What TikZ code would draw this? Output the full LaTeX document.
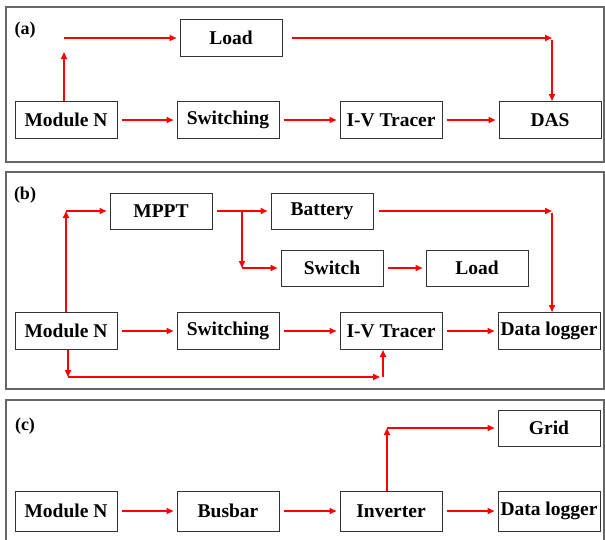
\documentclass[tikz,border=0pt]{standalone}
\usepackage{fontspec}
\setmainfont{Liberation Serif}
\usetikzlibrary{arrows.meta}

\tikzset{
  blk/.style={draw=black!80, line width=1pt, fill=white,
    minimum width=102pt, minimum height=37pt, inner sep=0pt,
    font=\fontsize{19.5}{23}\selectfont\bfseries},
  flow/.style={draw=red, line width=1.6pt, -{Triangle[length=7pt,width=6pt]}},
  gap/.style={shorten <=4pt, shorten >=3pt},
  panel/.style={draw=black!60, line width=1.3pt},
  tag/.style={font=\fontsize{18}{21}\selectfont\bfseries}
}

\begin{document}
\begin{tikzpicture}[x=1pt,y=-1pt]
\useasboundingbox (0,0) rectangle (605,539);

% (a) test bench
\draw[panel] (6,7) rectangle (604,162);
\node[tag] (taga) at (25,30) {(a)};
\node[blk] (loadA) at (231,38) {Load};
\node[blk] (modA) at (66,120) {Module N};
\node[blk] (swA) at (228,120) {Switching};
\node[blk] (ivA) at (391,120) {I-V Tracer};
\node[blk] (dasA) at (550,120) {DAS};
\coordinate (upA) at (64,52);
\coordinate (cornA) at (64,38);
\coordinate (cornA2) at (552,38);
\draw[flow] (modA.north -| upA) -- (upA);
\draw[flow, shorten >=3pt] (cornA) -- (loadA.west);
\draw[flow, shorten <=9pt] (loadA.east) -- (cornA2);
\draw[flow] ([yshift=-2pt]cornA2) -- (dasA.north -| cornA2);
\draw[flow, gap] (modA) -- (swA);
\draw[flow, gap] (swA) -- (ivA);
\draw[flow, gap] (ivA) -- (dasA);

% (b) off-grid setup
\draw[panel] (6,172) rectangle (604,389);
\node[tag] (tagb) at (25,195) {(b)};
\node[blk, minimum height=36pt] (mpptB) at (161,211) {MPPT};
\node[blk, minimum height=36pt] (batB) at (322,211) {Battery};
\node[blk, minimum height=36pt] (swtB) at (332,268) {Switch};
\node[blk, minimum height=36pt] (loadB) at (477,268) {Load};
\node[blk] (modB) at (66,331) {Module N};
\node[blk] (swB) at (228,331) {Switching};
\node[blk] (ivB) at (391,331) {I-V Tracer};
\node[blk] (dlB) at (549,331) {Data logger};
\coordinate (cornB1) at (66,211);
\coordinate (brB) at (242,211);
\coordinate (cornB2) at (242,268);
\coordinate (cornB3) at (552,211);
\coordinate (cornB4) at (68,377);
\coordinate (cornB5) at (383,377);
\draw[flow] (modB.north -| cornB1) -- (cornB1);
\draw[flow, shorten >=3pt] (cornB1) -- (mpptB.west);
\draw[flow, gap] (mpptB) -- (batB);
\draw[flow] (brB) -- (cornB2);
\draw[flow, shorten >=3pt] (cornB2) -- (swtB.west);
\draw[flow, gap] (swtB) -- (loadB);
\draw[flow, shorten <=5pt] (batB.east) -- (cornB3);
\draw[flow] ([yshift=-2pt]cornB3) -- (dlB.north -| cornB3);
\draw[flow, gap] (modB) -- (swB);
\draw[flow, gap] (swB) -- (ivB);
\draw[flow, gap] (ivB) -- (dlB);
\draw[flow] (modB.south -| cornB4) -- (cornB4);
\draw[flow] (cornB4) -- ([xshift=-3pt]cornB5);
\draw[flow] (cornB5) -- (ivB.south -| cornB5);

% (c) grid-tied setup
\draw[panel] (6,400) rectangle (604,545);
\node[tag] (tagc) at (25,426) {(c)};
\node[blk, minimum height=36pt] (gridC) at (549,428) {Grid};
\node[blk, minimum height=40pt] (modC) at (66,511) {Module N};
\node[blk, minimum height=40pt] (busC) at (228,511) {Busbar};
\node[blk, minimum height=40pt] (invC) at (391,511) {Inverter};
\node[blk, minimum height=40pt] (dlC) at (549,511) {Data logger};
\coordinate (cornC) at (387,428);
\draw[flow] (invC.north -| cornC) -- (cornC);
\draw[flow, shorten >=3pt] (cornC) -- (gridC.west);
\draw[flow, gap] (modC) -- (busC);
\draw[flow, gap] (busC) -- (invC);
\draw[flow, gap] (invC) -- (dlC);
\end{tikzpicture}
\end{document}
